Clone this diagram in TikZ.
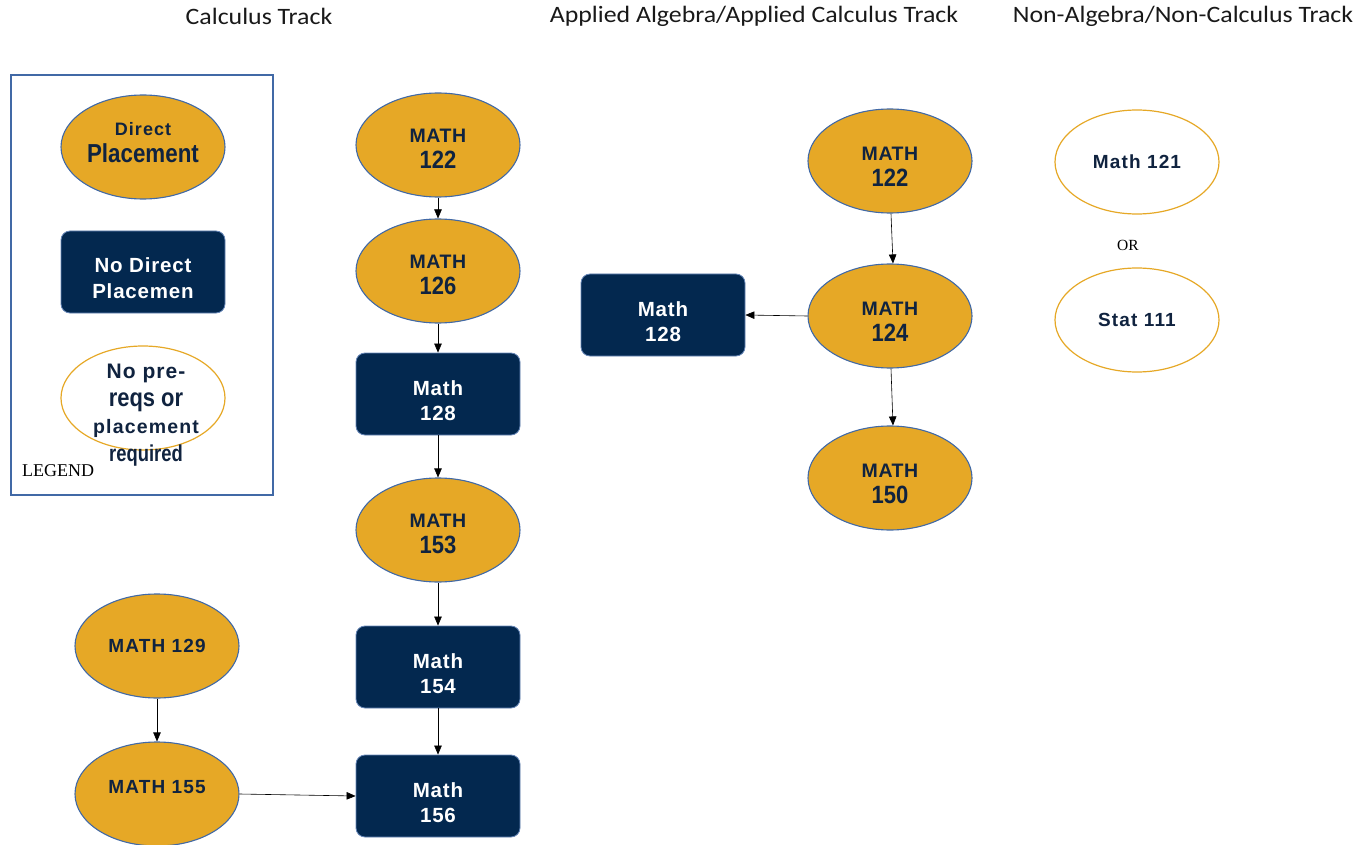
\documentclass[tikz,border=0pt]{standalone}
\usepackage{fontspec}
\setmainfont{Liberation Sans}
\newfontfamily\serifface{Liberation Serif}
\newfontfamily\hdrface{Carlito}
\usetikzlibrary{shapes.geometric,arrows.meta}
\definecolor{gold}{HTML}{E6A826}
\definecolor{navy}{HTML}{03284F}
\definecolor{edgeblue}{HTML}{4169A6}
\definecolor{ink}{HTML}{10233F}
\newcommand\cnum[1]{\scalebox{0.88}[1]{\fontsize{25}{25}\selectfont #1}}
\newcommand\capw[1]{{\fontsize{19.5}{25}\selectfont\addfontfeature{LetterSpace=3}#1}}
\newcommand\rtxt[1]{{\fontsize{20.5}{27}\selectfont\addfontfeature{LetterSpace=4}#1}}
\newcommand\wtxt[1]{{\fontsize{19}{25}\selectfont\addfontfeature{LetterSpace=6}#1}}
\begin{document}
\begin{tikzpicture}[x=1pt,y=-1pt,
 place/.style={ellipse,draw=edgeblue,line width=1.1pt,fill=gold,minimum width=164pt,minimum height=104pt,inner sep=0pt,text=ink,font=\bfseries,align=center},
 nodir/.style={rectangle,rounded corners=9pt,draw=edgeblue!80,line width=0.8pt,fill=navy,minimum width=164pt,minimum height=82pt,inner sep=0pt,text=white,font=\bfseries,align=center},
 free/.style={ellipse,draw=gold,line width=1.2pt,fill=white,minimum width=164pt,minimum height=104pt,inner sep=0pt,text=ink,font=\bfseries,align=center},
 hdr/.style={font=\hdrface\fontsize{23.5}{23.5}\selectfont,text=black!90},
 arr/.style={-{Triangle[length=9pt,width=7.5pt]},line width=0.6pt,black}]
\useasboundingbox (0,0) rectangle (1358,845);

% headers
\node[hdr] (h1) at (259,16) {\scalebox{1.1}[1]{Calculus Track}};
\node[hdr] (h2) at (754,16) {\scalebox{1.1}[1]{Applied Algebra/Applied Calculus Track}};
\node[hdr] (h3) at (1183,16) {\scalebox{1.1}[1]{Non-Algebra/Non-Calculus Track}};

% legend
\node[draw=edgeblue,line width=1.6pt,minimum width=262pt,minimum height=420pt,inner sep=0pt] (legend) at (142,285) {};
\node[place] (lg1) at (143,147) {{\fontsize{18}{24}\selectfont\addfontfeature{LetterSpace=6}Direct}\\[7pt]\scalebox{0.86}[1]{\fontsize{26}{26}\selectfont Placement}\rule[-9pt]{0pt}{9pt}};
\node[nodir] (lg2) at (143,272) {\rule{0pt}{28pt}\rtxt{No Direct}\\[10pt]\rtxt{Placemen}};
\node[free] (lg3) at (143,398) {};
\node[text=ink,font=\bfseries,align=center] (lg3t) at (146,415) {{\fontsize{21}{27}\selectfont\addfontfeature{LetterSpace=5}No pre-}\\[9pt]\scalebox{0.86}[1]{\fontsize{25.5}{27}\selectfont reqs or}\\[7pt]{\fontsize{19.5}{25}\selectfont\addfontfeature{LetterSpace=6}placement}\\[6pt]\scalebox{0.8}[1]{\fontsize{23}{23}\selectfont required}};
\node[font=\serifface\fontsize{18}{18}\selectfont,anchor=west,inner sep=0pt] (lgt) at (22,471) {LEGEND};

% calculus track
\node[place] (c122) at (438,145) {\rule{0pt}{21pt}\capw{MATH}\\[8pt]\cnum{122}};
\node[place] (c126) at (438,271) {\rule{0pt}{21pt}\capw{MATH}\\[8pt]\cnum{126}};
\node[nodir] (c128) at (438,394) {\rule{0pt}{28pt}\rtxt{Math}\\[10pt]\rtxt{128}};
\node[place] (c153) at (438,530) {\rule{0pt}{21pt}\capw{MATH}\\[8pt]\cnum{153}};
\node[nodir] (c154) at (438,667) {\rule{0pt}{28pt}\rtxt{Math}\\[10pt]\rtxt{154}};
\node[nodir] (c156) at (438,796) {\rule{0pt}{28pt}\rtxt{Math}\\[10pt]\rtxt{156}};
\node[place] (c129) at (157,646) {\wtxt{MATH 129}};
\node[place] (c155) at (157,794) {\wtxt{MATH 155}\rule[-14pt]{0pt}{14pt}};

\draw[arr] (c122) -- (c126);
\draw[arr] (c126) -- (c128);
\draw[arr] (c128) -- (c153);
\draw[arr] (c153) -- (c154);
\draw[arr] (c154) -- (c156);
\draw[arr] (c129) -- (c155);
\draw[arr] (c155.east) -- (c156.west);

% applied track
\node[place] (a122) at (890,161) {\rule{0pt}{25pt}\capw{MATH}\\[8pt]\cnum{122}};
\node[place] (a124) at (890,316) {\rule{0pt}{25pt}\capw{MATH}\\[8pt]\cnum{124}};
\node[place] (a150) at (890,478) {\rule{0pt}{25pt}\capw{MATH}\\[8pt]\cnum{150}};
\node[nodir] (a128) at (663,315) {\rule{0pt}{28pt}\rtxt{Math}\\[10pt]\rtxt{128}};
\draw[arr] ([xshift=1pt]a122.south) -- ([xshift=3pt]a124.north);
\draw[arr] (a124.west) -- (a128.east);
\draw[arr] ([xshift=1pt]a124.south) -- ([xshift=3pt]a150.north);

% non-algebra track
\node[free] (n121) at (1137,162) {\wtxt{Math 121}};
\node[font=\serifface\fontsize{15.5}{15.5}\selectfont] (nor) at (1128,245) {OR};
\node[free] (s111) at (1137,320) {\wtxt{Stat 111}};
\end{tikzpicture}
\end{document}
